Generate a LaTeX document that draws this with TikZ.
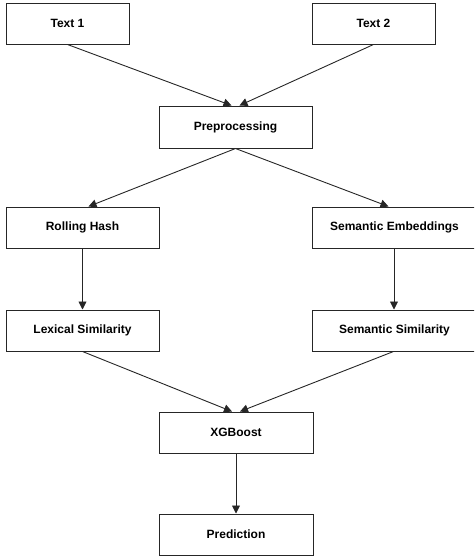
\documentclass[tikz,border=0pt]{standalone}
\usepackage{fontspec}
\setmainfont{Liberation Sans}
\usetikzlibrary{arrows.meta}
\begin{document}
\begin{tikzpicture}[x=1pt,y=-1pt,
  box/.style={draw=black!85,line width=1pt,fill=white,minimum height=41pt,inner sep=0pt,font=\fontsize{12}{14}\selectfont\bfseries},
  flow/.style={draw=black!85,line width=0.9pt,-{Triangle[length=8pt,width=8pt]}}]
\useasboundingbox (0,0) rectangle (474,557);
\begin{scope}
\clip (0,0) rectangle (474,557);
\node[box,minimum width=123pt] (t1) at (67.5,23.5) {Text 1};
\node[box,minimum width=123pt] (t2) at (373.5,23.5) {Text 2};
\node[box,minimum width=153pt,minimum height=42pt] (pre) at (235.5,127) {Preprocessing};
\node[box,minimum width=153pt] (rh) at (82.5,227.5) {Rolling Hash};
\node[box,minimum width=165pt] (se) at (394.5,227.5) {Semantic Embeddings};
\node[box,minimum width=153pt] (lex) at (82.5,330.5) {Lexical Similarity};
\node[box,minimum width=165pt] (ss) at (394.5,330.5) {Semantic Similarity};
\node[box,minimum width=154pt] (xgb) at (236,432.5) {XGBoost};
\node[box,minimum width=154pt] (pred) at (236,534.5) {Prediction};
\end{scope}
\draw[flow] (t1.south) -- ([xshift=-4pt]pre.north);
\draw[flow] (t2.south) -- ([xshift=4pt]pre.north);
\draw[flow] (pre.south) -- ([xshift=6pt]rh.north);
\draw[flow] (pre.south) -- ([xshift=-6pt]se.north);
\draw[flow] (rh.south) -- (lex.north);
\draw[flow] ([xshift=-0.5pt]se.south) -- ([xshift=-0.5pt]ss.north);
\draw[flow] (lex.south) -- ([xshift=-4pt]xgb.north);
\draw[flow] ([xshift=-1pt]ss.south) -- ([xshift=4pt]xgb.north);
\draw[flow] (xgb.south) -- (pred.north);
\end{tikzpicture}
\end{document}
